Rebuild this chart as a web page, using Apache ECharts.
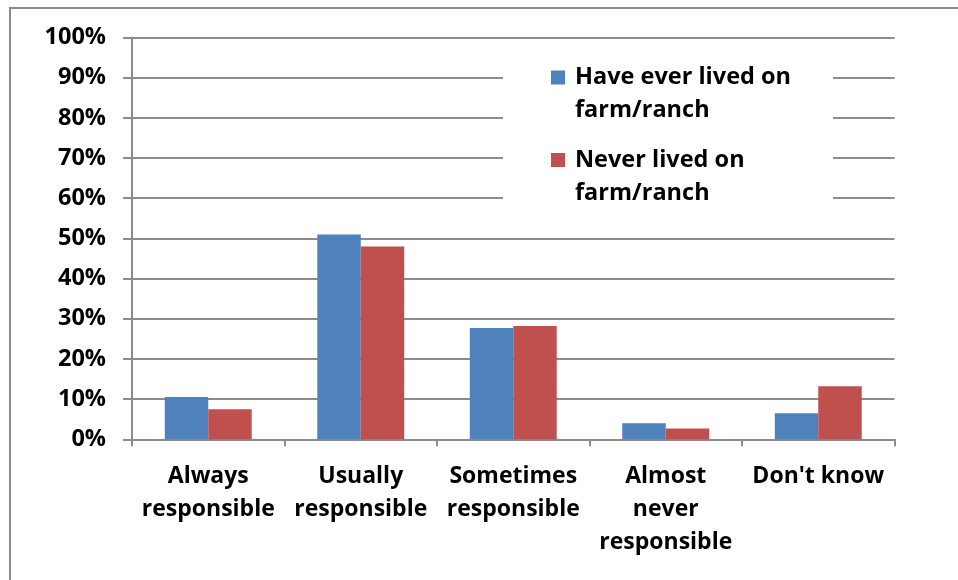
<!DOCTYPE html>
<html>
<head>
<meta charset="utf-8">
<script src="https://cdn.jsdelivr.net/npm/echarts@6/dist/echarts.min.js"></script>
<style>
html,body{margin:0;padding:0;background:#fff;}
#chart{width:958px;height:580px;}
</style>
</head>
<body>
<div id="chart"></div>
<script>
var categories = ['Always\nresponsible', 'Usually\nresponsible', 'Sometimes\nresponsible', 'Almost\nnever\nresponsible', "Don't know"];
var seriesNames = ['Have ever lived on farm/ranch', 'Never lived on farm/ranch'];
var legendLabels = ['Have ever lived on\nfarm/ranch', 'Never lived on\nfarm/ranch'];
var everLived = [10.5, 51.0, 27.7, 4.0, 6.5];
var neverLived = [7.5, 48.0, 28.2, 2.7, 13.2];
var yTicks = [0, 10, 20, 30, 40, 50, 60, 70, 80, 90, 100];

var FONT = '"Open Sans", "Liberation Sans", sans-serif';
var GRAY = '#8c8c8c';

var chart = echarts.init(document.getElementById('chart'), null, {renderer: 'canvas'});
chart.setOption({
  animation: false,
  backgroundColor: '#fff',
  graphic: [{
    type: 'rect', z: 100, silent: true,
    shape: {x: 10, y: 8, width: 960, height: 590},
    style: {fill: 'none', stroke: GRAY, lineWidth: 2}
  }],
  grid: {left: 132, right: 63.5, top: 37.5, bottom: 140.7, containLabel: false},
  legend: {
    orient: 'vertical',
    left: 503, top: 45,
    padding: [-17, 42, 18, 48],
    backgroundColor: '#fff',
    itemWidth: 14, itemHeight: 14,
    itemGap: -16.5,
    icon: 'rect',
    data: seriesNames,
    formatter: function (name) {
      // leading blank line keeps the marker level with the first text line
      return '\n' + legendLabels[seriesNames.indexOf(name)];
    },
    textStyle: {
      fontFamily: FONT, fontWeight: 'bold', fontSize: 23.5, color: '#000',
      lineHeight: 33, padding: [0, 0, 0, 5]
    }
  },
  xAxis: {
    type: 'category',
    data: categories,
    axisLine: {lineStyle: {color: GRAY, width: 2}},
    axisTick: {show: true, length: 7, lineStyle: {color: GRAY, width: 2}},
    axisLabel: {
      interval: 0, margin: 21,
      fontFamily: FONT, fontWeight: 'bold', fontSize: 23, color: '#000', lineHeight: 33
    }
  },
  yAxis: {
    type: 'value',
    min: 0, max: 100, interval: 10,
    axisLine: {show: true, lineStyle: {color: GRAY, width: 2}},
    axisTick: {show: true, length: 9, lineStyle: {color: GRAY, width: 2}},
    splitLine: {show: true, lineStyle: {color: GRAY, width: 2}},
    axisLabel: {
      margin: 26,
      formatter: function (v) { return yTicks.indexOf(v) >= 0 ? v + '%' : ''; },
      fontFamily: FONT, fontWeight: 'bold', fontSize: 23.5, color: '#000'
    }
  },
  series: [{
    name: seriesNames[0], type: 'bar', data: everLived,
    barGap: '0%', barCategoryGap: '43%',
    itemStyle: {color: '#4F81BD'}
  }, {
    name: seriesNames[1], type: 'bar', data: neverLived,
    barGap: '0%', barCategoryGap: '43%',
    itemStyle: {color: '#C0504D'}
  }]
});
</script>
</body>
</html>
